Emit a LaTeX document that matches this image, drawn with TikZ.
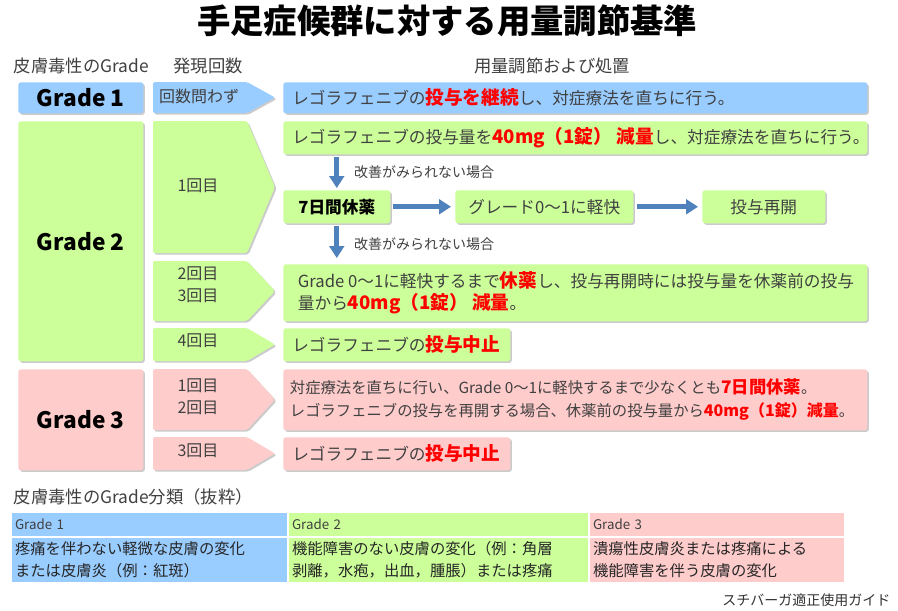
\documentclass[tikz,border=0pt]{standalone}
\usepackage{fontspec}
\setmainfont{Noto Sans CJK JP}
\usetikzlibrary{arrows.meta,shadows}

\definecolor{gradeblue}{HTML}{99CCFF}
\definecolor{gradegreen}{HTML}{CCFF99}
\definecolor{gradepink}{HTML}{FFCCCC}
\definecolor{flowblue}{HTML}{4F81BD}
\definecolor{txtgray}{HTML}{404040}
\newcommand{\emred}[2][14]{{\fontsize{#1}{16}\selectfont\bfseries\color{red}#2}}

\begin{document}
\begin{tikzpicture}[x=0.75pt,y=-0.75pt,
  shade box/.style={drop shadow={shadow xshift=1.2pt,shadow yshift=-1.2pt,fill=black!40,opacity=0.5}},
  box/.style={shade box,rounded corners=2pt,inner sep=0pt,anchor=north west},
  gradelbl/.style={box,minimum width=93.75pt,font=\fontsize{17}{20}\selectfont\bfseries},
  acttxt/.style={anchor=west,inner sep=0pt,align=left,text=txtgray,font=\fontsize{12.5}{16.5}\selectfont},
  stepbox/.style={box,minimum height=24.75pt,text=txtgray,font=\fontsize{12.5}{15}\selectfont},
  chev/.style={shade box,rounded corners=1.5pt},
  chevtxt/.style={align=center,text=txtgray,font=\fontsize{12}{16.5}\selectfont},
  hdr/.style={text=txtgray,font=\fontsize{13}{15}\selectfont},
  note/.style={text=txtgray,font=\fontsize{10.5}{12}\selectfont},
  flow/.style={draw=flowblue,line width=3.5pt,-{Triangle[width=11pt,length=9pt]}},
  cell/.style={draw=white,line width=1pt,outer sep=0pt,anchor=north west,inner xsep=3pt,inner ysep=0pt,align=left},
]
\useasboundingbox (0,0) rectangle (898,610);
\fill[white] (0,0) rectangle (898,610);

%Title and headings
\node[font=\fontsize{25}{30}\selectfont\bfseries] (title) at (447,21) {手足症候群に対する用量調節基準};
\node[hdr,anchor=west] (hgrade) at (9,66) {皮膚毒性のGrade};
\node[hdr] (hcount) at (208,66) {発現回数};
\node[hdr] (hact) at (552,66) {用量調節および処置};

%Grade boxes
\node[gradelbl,fill=gradeblue,minimum height=23.25pt] (g1) at (18,82) {Grade 1};
\node[gradelbl,fill=gradegreen,minimum height=180pt] (g2) at (18,121) {Grade 2};
\node[gradelbl,fill=gradepink,minimum height=75.75pt] (g3) at (18,369) {Grade 3};

%Chevrons for the number of episodes
\foreach \ya/\yb/\col in {82/113/gradeblue,121/253/gradegreen,261/321/gradegreen,328/361/gradegreen,369/430/gradepink,437/470/gradepink}
  \fill[chev,fill=\col] (153,\ya) -- (247,\ya) -- (275,{(\ya+\yb)/2}) -- (247,\yb) -- (153,\yb) -- cycle;
\node[chevtxt] (c1) at (199,96) {回数問わず};
\node[chevtxt] (c2) at (198,186) {1回目};
\node[chevtxt] (c3) at (198,285) {2回目\\3回目};
\node[chevtxt] (c4) at (198,341) {4回目};
\node[chevtxt] (c5) at (198,397) {1回目\\2回目};
\node[chevtxt] (c6) at (198,451) {3回目};

%Grade 1 action
\node[box,fill=gradeblue,minimum width=438pt,minimum height=23.25pt] (act1) at (283,82) {};
\node[acttxt] at ([xshift=6.75pt]act1.west) {レゴラフェニブの\emred{投与を継続}し、対症療法を直ちに行う。};

%Grade 2 actions
\node[box,fill=gradegreen,minimum width=438pt,minimum height=24.75pt] (act2) at (283,121) {};
\node[acttxt] at ([xshift=6.75pt]act2.west) {レゴラフェニブの投与量を\emred{40mg（1錠） 減量}し、対症療法を直ちに行う。};
\node[stepbox,fill=gradegreen,minimum width=80.25pt,font=\fontsize{12.5}{15}\selectfont\bfseries,text=black] (rest7) at (283,190) {7日間休薬};
\node[stepbox,fill=gradegreen,minimum width=133.5pt] (calm) at (455,190) {グレード0〜1に軽快};
\node[stepbox,fill=gradegreen,minimum width=92.25pt] (resume) at (702,190) {投与再開};
\node[box,fill=gradegreen,minimum width=438pt,minimum height=42.75pt] (act3) at (283,264) {};
\node[acttxt] at ([xshift=11pt]act3.west) {Grade 0〜1に軽快するまで\emred{休薬}し、投与再開時には投与量を休薬前の投与\\量から\emred{40mg（1錠） 減量}。};
\node[box,fill=gradegreen,minimum width=170.25pt,minimum height=24.75pt] (act4) at (283,328) {};
\node[acttxt] at ([xshift=6.75pt]act4.west) {レゴラフェニブの\emred{投与中止}};

%Flow arrows
\draw[flow,shorten <=2pt,shorten >=1.5pt] (rest7.north |- act2.south) -- (rest7.north)
  node[note,midway,right=8pt] {改善がみられない場合};
\draw[flow,shorten <=1.5pt,shorten >=4.5pt] (rest7.south) -- (rest7.south |- act3.north)
  node[note,midway,right=8pt] {改善がみられない場合};
\draw[flow,shorten <=2pt,shorten >=3pt] (rest7.east) -- (calm.west);
\draw[flow,shorten <=2.5pt,shorten >=3pt] (calm.east) -- (resume.west);

%Grade 3 actions
\node[box,fill=gradepink,minimum width=438pt,minimum height=45.75pt] (act5) at (283,369) {};
\node[acttxt,font=\fontsize{11.5}{17.25}\selectfont] at ([xshift=5pt]act5.west) {対症療法を直ちに行い、Grade 0〜1に軽快するまで少なくとも\emred[13]{7日間休薬}。\\レゴラフェニブの投与を再開する場合、休薬前の投与量から\emred[12]{40mg（1錠）減量}。};
\node[box,fill=gradepink,minimum width=170.25pt,minimum height=24.75pt] (act6) at (283,437) {};
\node[acttxt] at ([xshift=6.75pt]act6.west) {レゴラフェニブの\emred{投与中止}};

%Classification table
\node[hdr,anchor=west] (tbltitle) at (9,497) {皮膚毒性のGrade分類（抜粋）};
\node[cell,fill=gradeblue,minimum height=18.75pt,text width=201.75pt,text=txtgray,font=\fontsize{10}{12}\selectfont] (t1h) at (11,512) {Grade 1};
\node[cell,fill=gradegreen,minimum height=18.75pt,text width=219.75pt,text=txtgray,font=\fontsize{10}{12}\selectfont] (t2h) at (t1h.north east) {Grade 2};
\node[cell,fill=gradepink,minimum height=18.75pt,text width=186pt,text=txtgray,font=\fontsize{10}{12}\selectfont] (t3h) at (t2h.north east) {Grade 3};
\node[cell,fill=gradeblue,minimum height=34.5pt,text width=201.75pt,text=black!85,font=\fontsize{11.5}{16.5}\selectfont] (t1b) at (t1h.south west) {疼痛を伴わない軽微な皮膚の変化\\または皮膚炎（例：紅斑）};
\node[cell,fill=gradegreen,minimum height=34.5pt,text width=219.75pt,text=black!85,font=\fontsize{11.5}{16.5}\selectfont] (t2b) at (t2h.south west) {機能障害のない皮膚の変化（例：角層\\剥離，水疱，出血，腫脹）または疼痛};
\node[cell,fill=gradepink,minimum height=34.5pt,text width=186pt,text=black!85,font=\fontsize{11.5}{16.5}\selectfont] (t3b) at (t3h.south west) {潰瘍性皮膚炎または疼痛による\\機能障害を伴う皮膚の変化};

%Source
\node[note,anchor=east,text=black!80] (src) at (895,600) {スチバーガ適正使用ガイド};
\end{tikzpicture}
\end{document}
